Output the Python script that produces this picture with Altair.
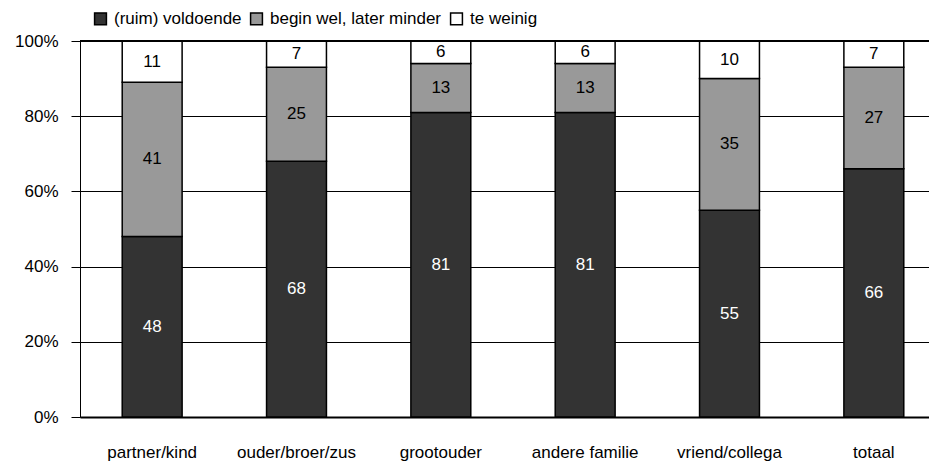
import altair as alt
import pandas as pd

categories = ["partner/kind", "ouder/broer/zus", "grootouder", "andere familie", "vriend/collega", "totaal"]
series = ["(ruim) voldoende", "begin wel, later minder", "te weinig"]
voldoende = [48, 68, 81, 81, 55, 66]
begin_wel = [41, 25, 13, 13, 35, 27]
te_weinig = [11, 7, 6, 6, 10, 7]
colors = ["#333333", "#999999", "#ffffff"]
text_colors = ["#ffffff", "#000000", "#000000"]

rows = []
for i, c in enumerate(categories):
    for j, (s, vals) in enumerate(zip(series, [voldoende, begin_wel, te_weinig])):
        rows.append({"cat": c, "serie": s, "order": j, "value": vals[i], "tcol": text_colors[j]})
df = pd.DataFrame(rows)

FONT = "Liberation Sans"
FS = 17

xenc = alt.X("cat:N", sort=categories, title=None,
             scale=alt.Scale(range=[0, 866], paddingInner=0.585, paddingOuter=0.2925),
             axis=alt.Axis(labelAngle=0, tickSize=0, labelPadding=27, labelFontSize=FS,
                           labelFont=FONT, labelColor="#000", domainColor="#000",
                           domainWidth=2, grid=False, labelLimit=300))

base = alt.Chart(df)

bars = base.mark_bar(stroke="#000", strokeWidth=1.5).encode(
    x=xenc,
    y=alt.Y("value:Q", stack="zero", title=None,
            scale=alt.Scale(domain=[0, 100], nice=False),
            axis=alt.Axis(values=[0, 20, 40, 60, 80, 100], labelExpr="datum.value + '%'",
                          tickSize=9, tickColor="#000", labelPadding=13, labelFontSize=FS,
                          labelFont=FONT, labelColor="#000", domainColor="#000",
                          gridColor="#000", gridWidth=1, gridOpacity=1)),
    order=alt.Order("order:Q"),
    color=alt.Color("serie:N", sort=series,
                    scale=alt.Scale(domain=series, range=colors),
                    legend=alt.Legend(title=None, orient="none", direction="horizontal",
                                      legendX=12, legendY=-31, symbolType="square",
                                      symbolSize=140, symbolStrokeColor="#000",
                                      symbolStrokeWidth=1.5, symbolOpacity=1,
                                      labelFontSize=FS, labelFont=FONT, labelColor="#000",
                                      columnPadding=5, labelOffset=5, labelLimit=400)),
)

labels = base.transform_stack(
    stack="value", groupby=["cat"], sort=[alt.SortField("order")], as_=["v0", "v1"]
).transform_calculate(mid="(datum.v0 + datum.v1) / 2").mark_text(
    fontSize=FS, font=FONT, baseline="middle"
).encode(
    x=alt.X("cat:N", sort=categories),
    y=alt.Y("mid:Q"),
    text=alt.Text("value:Q"),
    color=alt.Color("tcol:N", scale=None, legend=None),
)

top = alt.Chart(pd.DataFrame({"v": [100]})).mark_rule(color="#000", strokeWidth=2).encode(
    y=alt.Y("v:Q")
)

chart = alt.layer(bars, top, labels).properties(
    width=849, height=376,
    autosize=alt.AutoSizeParams(type="none"),
    padding={"left": 72, "top": 33, "right": 0, "bottom": 45},
).configure_view(stroke=None).configure_axis(grid=True)

chart.save("out.html", embed_options={"renderer": "svg", "actions": False})
